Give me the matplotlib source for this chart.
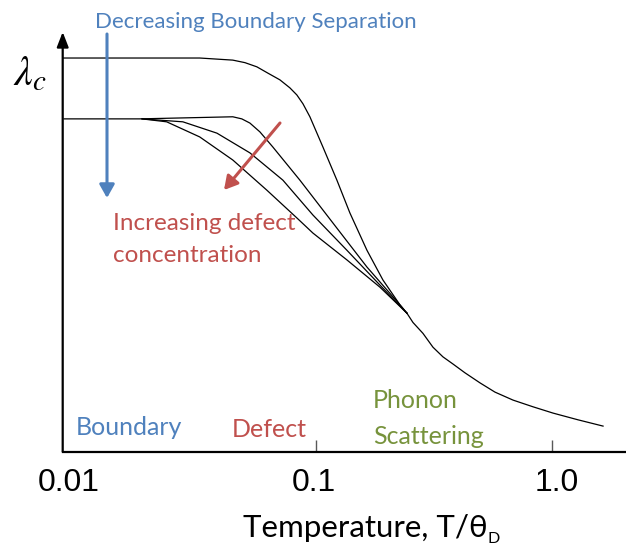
import matplotlib
matplotlib.use('Agg')
import matplotlib.pyplot as plt
from matplotlib.ticker import NullLocator
from matplotlib.transforms import ScaledTranslation

# lambda_c (arbitrary units) vs T/theta_D
T_top = [0.0085, 0.0323, 0.0446, 0.0502, 0.0564, 0.0628, 0.0706, 0.0778,
         0.0833, 0.0884, 0.0946, 0.1074, 0.1231, 0.1397, 0.1650, 0.1929,
         0.2276, 0.2437]
L_top = [0.938, 0.938, 0.933, 0.927, 0.917, 0.902, 0.886, 0.867,
         0.850, 0.829, 0.798, 0.726, 0.647, 0.569, 0.480, 0.409,
         0.350, 0.330]

T_a = [0.0086, 0.0180, 0.0446, 0.0487, 0.0527, 0.0581, 0.0659, 0.0858,
       0.1184, 0.1650, 0.2276, 0.2437]
L_a = [0.793, 0.793, 0.798, 0.793, 0.783, 0.762, 0.726, 0.647,
       0.545, 0.440, 0.350, 0.330]

T_b = [0.0184, 0.0274, 0.0382, 0.0527, 0.0727, 0.0974, 0.1357, 0.1873, 0.2437]
L_b = [0.793, 0.786, 0.759, 0.712, 0.647, 0.564, 0.480, 0.397, 0.330]

T_c = [0.0184, 0.0234, 0.0323, 0.0446, 0.0622, 0.0833, 0.0974, 0.1357,
       0.1873, 0.2437]
L_c = [0.793, 0.786, 0.750, 0.695, 0.623, 0.557, 0.521, 0.457,
       0.392, 0.330]

# common phonon-limited tail
T_tail = [0.2437, 0.2584, 0.2849, 0.3141, 0.3462, 0.3817, 0.4291, 0.4969,
          0.5750, 0.6855, 0.8333, 1.013, 1.292, 1.650]
L_tail = [0.330, 0.308, 0.282, 0.249, 0.226, 0.209, 0.188, 0.164,
          0.142, 0.123, 0.107, 0.092, 0.076, 0.061]

xticks = [0.01, 0.1, 1.0]
xticklabels = ['0.01', '0.1', '1.0']

BLUE = '#4F81BD'
RED = '#C0504D'
GREEN = '#77933C'
W, H = 626, 550

plt.rcParams['mathtext.fontset'] = 'stix'

fig = plt.figure(figsize=(W / 100, H / 100), dpi=100)
ax = fig.add_axes([62.7 / W, 98.3 / H, 563.3 / W, 419.7 / H])


def fxy(x, y):
    # pixel position (from top-left) -> figure fraction
    return (x / W, 1 - y / H)


for T, L in [(T_top, L_top), (T_a, L_a), (T_b, L_b), (T_c, L_c), (T_tail, L_tail)]:
    ax.plot(T, L, color='k', lw=0.9)

ax.set_xscale('log')
ax.set_xlim(0.00849, 2.064)
ax.set_ylim(0, 1)
for s in ['top', 'right', 'left']:
    ax.spines[s].set_visible(False)
ax.spines['bottom'].set_linewidth(1.6)
ax.set_yticks([])
ax.set_xticks(xticks)
ax.set_xticklabels(xticklabels)
ax.xaxis.set_minor_locator(NullLocator())
ax.tick_params(axis='x', direction='in', length=9, width=1, color='#595959',
               pad=12, labelsize=23, labelfontfamily='Liberation Sans')
ticks = ax.xaxis.get_major_ticks()
ticks[0].tick1line.set_visible(False)
for lab, dx in zip(ax.get_xticklabels(), [-11, -2, 5]):
    lab.set_transform(lab.get_transform() + ScaledTranslation(dx / 100, 0, fig.dpi_scale_trans))

# y axis with arrow head
ax.annotate('', xy=(0, 1), xytext=(0, 0), xycoords='axes fraction',
            arrowprops=dict(arrowstyle='-|>,head_length=0.9,head_width=0.35',
                            lw=1.6, color='k', shrinkA=0, shrinkB=0, mutation_scale=10),
            annotation_clip=False)

fig.text(*fxy(13, 85), r'$\lambda_c$', fontsize=30, va='baseline')

# arrows
ax.annotate('', xy=fxy(107, 198), xytext=fxy(107, 34), xycoords='figure fraction',
            arrowprops=dict(arrowstyle='-|>,head_length=0.8,head_width=0.45',
                            lw=2.2, color=BLUE, shrinkA=0, shrinkB=0, mutation_scale=10),
            annotation_clip=False)
ax.annotate('', xy=fxy(224, 190), xytext=fxy(280, 123), xycoords='figure fraction',
            arrowprops=dict(arrowstyle='-|>,head_length=0.8,head_width=0.45',
                            lw=2.2, color=RED, shrinkA=0, shrinkB=0, mutation_scale=10),
            annotation_clip=False)

fs = 18
fig.text(*fxy(95, 28), 'Decreasing Boundary Separation', color=BLUE, fontsize=16,
         family='Lato', va='baseline')
fig.text(*fxy(113, 230), 'Increasing defect', color=RED, fontsize=17.5, family='Lato', va='baseline')
fig.text(*fxy(113, 262), 'concentration', color=RED, fontsize=17.5, family='Lato', va='baseline')
fig.text(*fxy(76, 435), 'Boundary', color=BLUE, fontsize=fs, family='Lato', va='baseline')
fig.text(*fxy(232, 437), 'Defect', color=RED, fontsize=fs, family='Lato', va='baseline')
fig.text(*fxy(373, 408), 'Phonon', color=GREEN, fontsize=fs, family='Lato', va='baseline')
fig.text(*fxy(373, 444), 'Scattering', color=GREEN, fontsize=fs, family='Lato', va='baseline')

# x label with subscript D
xl = fig.text(*fxy(243, 537), 'Temperature, T/θ', fontsize=22.5,
              family=['Lato', 'DejaVu Sans'], va='baseline')
fig.canvas.draw()
bb = xl.get_window_extent()
fig.text(bb.x1 / W, (H - 543) / H, 'D', fontsize=11.5, family='Lato', va='baseline')

fig.savefig('out.png', dpi=100, facecolor='white')
